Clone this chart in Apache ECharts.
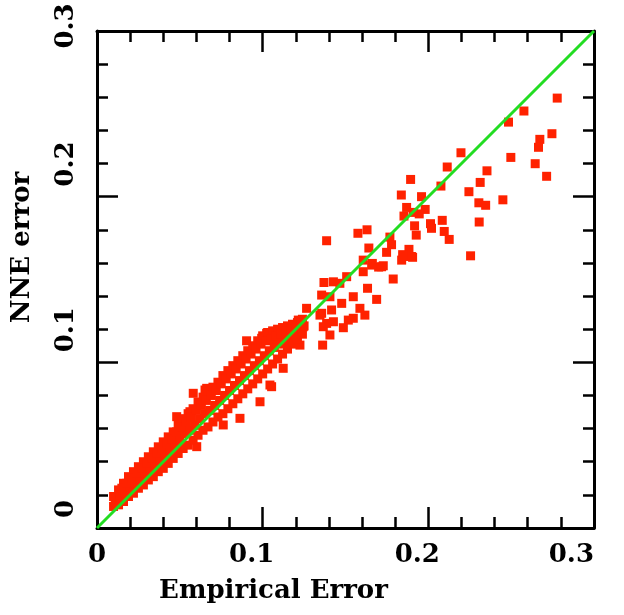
<!DOCTYPE html>
<html><head><meta charset="utf-8">
<script src="https://cdn.jsdelivr.net/npm/echarts@6/dist/echarts.min.js"></script>
<style>html,body{margin:0;padding:0;background:#fff}#c{width:624px;height:615px}</style>
</head><body><div id="c"></div>
<script>
const tickLabels = ['0','0.1','0.2','0.3'];
const empiricalError = [
0.2778,0.2577,0.2484,0.2746,0.2673,0.2665,0.2645,0.2714,0.2498,0.2197,0.2114,0.2354,0.2313,0.2245,0.2450,0.2305,0.2346,0.2307,0.2255,0.2076,
0.1893,0.1837,0.1959,0.1869,0.1981,0.1853,0.1945,0.1910,0.2013,0.2019,0.2084,0.2096,0.2126,0.1917,0.1927,0.1386,0.1575,0.1630,0.1641,0.1768,
0.1778,0.1748,0.1883,0.1845,0.1905,0.1839,0.1607,0.1662,0.1728,0.1700,0.1898,0.1849,0.1788,0.1688,0.1718,0.1658,0.1607,0.1633,0.1617,0.1587,
0.1547,0.1547,0.1517,0.1487,0.1477,0.1427,0.1370,0.1416,0.1427,0.1406,0.1362,0.1366,0.1356,0.1356,0.1265,0.1245,0.1225,0.1507,0.1466,0.1346,
0.1386,0.1215,0.1406,
0.0581,0.0662,0.0481,0.0903,0.1044,0.0994,0.1024,0.1054,0.0984,0.0863,0.0762,0.0602,0.1124,0.0652,0.0561,0.1044,
0.010,0.010,0.011,0.012, 0.013,0.013,0.014,0.014, 0.016,0.016,0.017,0.015, 0.019,0.019,0.020,0.018,
0.022,0.022,0.023,0.021, 0.025,0.025,0.026,0.024, 0.028,0.028,0.029,0.027, 0.031,0.031,0.032,0.030,
0.034,0.034,0.035,0.033, 0.037,0.037,0.038,0.036, 0.040,0.040,0.041,0.039, 0.043,0.043,0.044,0.042,
0.046,0.046,0.047,0.045, 0.049,0.049,0.050,0.048, 0.052,0.052,0.053,0.051, 0.055,0.055,0.056,0.054,
0.058,0.058,0.059,0.057, 0.061,0.061,0.062,0.060, 0.064,0.064,0.065,0.063, 0.067,0.067,0.068,0.066,
0.070,0.070,0.071,0.069, 0.073,0.073,0.074,0.072, 0.076,0.076,0.077,0.075, 0.079,0.079,0.080,0.078,
0.082,0.082,0.083,0.081, 0.085,0.085,0.086,0.084, 0.088,0.088,0.089,0.087, 0.091,0.091,0.092,0.090,
0.094,0.094,0.095,0.093, 0.097,0.097,0.098,0.096, 0.100,0.100,0.101,0.099, 0.103,0.103,0.104,0.102,
0.106,0.106,0.107,0.105, 0.109,0.109,0.110,0.108, 0.112,0.112,0.113,0.111, 0.115,0.115,0.116,0.114,
0.118,0.118,0.119,0.117, 0.121,0.121,0.122,0.120, 0.124,0.124,0.125,0.123
];
const nneError = [
0.2595,0.2517,0.2450,0.2380,0.2346,0.2298,0.2199,0.2123,0.2237,0.2265,0.2179,0.2156,0.2086,0.2030,0.1981,0.1963,0.1948,0.1847,0.1643,0.2064,
0.2104,0.2010,0.2000,0.1935,0.1923,0.1883,0.1896,0.1905,0.1837,0.1809,0.1857,0.1790,0.1742,0.1824,0.1768,0.1734,0.1779,0.1800,0.1690,0.1756,
0.1710,0.1664,0.1682,0.1650,0.1634,0.1617,0.1617,0.1597,0.1583,0.1575,0.1639,0.1639,0.1503,0.1380,0.1577,0.1587,0.1547,0.1447,0.1285,0.1326,
0.1396,0.1266,0.1255,0.1209,0.1356,0.1486,0.1482,0.1316,0.1245,0.1165,0.1104,0.1215,0.1296,0.1406,0.1326,0.1215,0.1104,0.1517,0.1477,0.1285,
0.1235,0.1255,0.1396,
0.0813,0.0843,0.0672,0.1130,0.1175,0.1145,0.1175,0.0853,0.0762,0.0662,0.0622,0.0491,0.0964,0.0833,0.0702,0.0863,
0.013,0.019,0.016,0.018, 0.014,0.023,0.018,0.020, 0.016,0.027,0.021,0.024, 0.019,0.031,0.025,0.027,
0.021,0.034,0.027,0.030, 0.024,0.037,0.030,0.033, 0.026,0.040,0.033,0.036, 0.029,0.043,0.036,0.039,
0.031,0.046,0.038,0.042, 0.034,0.049,0.041,0.045, 0.036,0.052,0.044,0.048, 0.039,0.055,0.047,0.051,
0.042,0.058,0.050,0.054, 0.045,0.062,0.053,0.058, 0.048,0.066,0.057,0.061, 0.050,0.069,0.059,0.064,
0.053,0.072,0.062,0.067, 0.056,0.076,0.066,0.071, 0.059,0.079,0.069,0.074, 0.061,0.082,0.071,0.077,
0.064,0.085,0.074,0.080, 0.067,0.088,0.077,0.083, 0.069,0.092,0.080,0.087, 0.072,0.095,0.083,0.090,
0.075,0.098,0.086,0.093, 0.078,0.101,0.089,0.096, 0.081,0.104,0.092,0.099, 0.084,0.107,0.095,0.102,
0.087,0.110,0.098,0.105, 0.090,0.113,0.101,0.108, 0.093,0.116,0.104,0.111, 0.096,0.118,0.107,0.113,
0.099,0.119,0.109,0.114, 0.102,0.120,0.111,0.116, 0.105,0.121,0.113,0.117, 0.108,0.122,0.115,0.119,
0.111,0.123,0.117,0.120, 0.114,0.124,0.119,0.122, 0.117,0.126,0.122,0.124
];
const diagonal = [[0,0],[0.3,0.3]];

const points = empiricalError.map((x,i)=>[x, nneError[i]]);
const FONT = 'DejaVu Serif';
const lbl = {fontFamily:FONT,fontWeight:'bold',fontSize:26,color:'#000'};
const axisCommon = {
  type:'value', min:0, max:0.3, interval:0.1,
  axisLine:{show:true,onZero:false,lineStyle:{color:'#000',width:3}},
  axisTick:{show:true,inside:true,length:21,lineStyle:{color:'#000',width:2.5}},
  minorTick:{show:true,splitNumber:5,length:11,lineStyle:{color:'#000',width:2.5}},
  splitLine:{show:false}
};
const chart = echarts.init(document.getElementById('c'));
chart.setOption({
  animation:false,
  backgroundColor:'#fff',
  grid:{left:97,right:30,top:31,bottom:87},
  xAxis:[
    Object.assign({}, axisCommon, {position:'bottom',
      name:'Empirical Error', nameLocation:'middle', nameGap:50,
      nameTextStyle:Object.assign({}, lbl, {padding:[0,144,0,0]}),
      axisLabel:Object.assign({}, lbl, {margin:14, alignMaxLabel:'right',
        rich:{s:Object.assign({}, lbl, {padding:[0,22,0,0]})},
        formatter:(v)=>{const t=tickLabels[Math.round(v*10)]; return (t==='0.1'||t==='0.2')?'{s|'+t+'}':t;}})}),
    Object.assign({}, axisCommon, {position:'top', axisLabel:{show:false}})
  ],
  yAxis:[
    Object.assign({}, axisCommon, {position:'left',
      name:'NNE error', nameLocation:'middle', nameGap:62,
      nameTextStyle:Object.assign({}, lbl, {padding:[0,0,0,64]}),
      axisLabel:Object.assign({}, lbl, {margin:18, rotate:90, align:'left', alignMaxLabel:'center',
        padding:[0,0,0,10],
        formatter:(v)=>tickLabels[Math.round(v*10)]})}),
    Object.assign({}, axisCommon, {position:'right', axisLabel:{show:false}})
  ],
  series:[
    {type:'scatter', xAxisIndex:0, yAxisIndex:0, data:points, symbol:'rect', symbolSize:9,
     itemStyle:{color:'#ff2200',opacity:1}, z:2},
    {type:'line', xAxisIndex:0, yAxisIndex:0, data:diagonal, symbol:'none',
     lineStyle:{color:'#22dd22',width:3}, z:3}
  ]
});
</script></body></html>
